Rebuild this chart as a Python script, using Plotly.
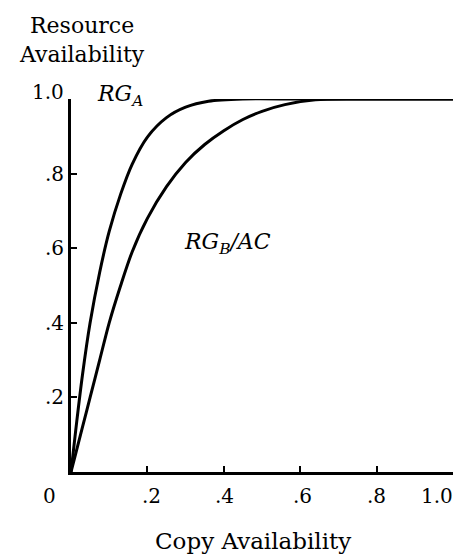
import plotly.graph_objects as go

# ---- data ----
rga_x = [0.0, 0.005, 0.015, 0.03, 0.05, 0.075, 0.10, 0.13, 0.16, 0.20,
         0.25, 0.30, 0.36, 0.45, 0.60, 1.00]
rga_y = [0.0, 0.045, 0.135, 0.26, 0.40, 0.535, 0.645, 0.745, 0.825, 0.898,
         0.950, 0.978, 0.994, 1.0, 1.0, 1.0]

rgb_x = [0.0, 0.01, 0.03, 0.05, 0.075, 0.10, 0.13, 0.16, 0.20, 0.25,
         0.30, 0.35, 0.40, 0.45, 0.50, 0.56, 0.64, 0.75, 1.00]
rgb_y = [0.0, 0.04, 0.12, 0.20, 0.30, 0.40, 0.50, 0.59, 0.68, 0.765,
         0.83, 0.878, 0.915, 0.945, 0.967, 0.985, 0.998, 1.0, 1.0]

x_tick_vals = [0.2, 0.4, 0.6, 0.8, 1.0]
x_tick_text = [".2", ".4", ".6", ".8", "1.0"]
y_tick_vals = [0.2, 0.4, 0.6, 0.8, 1.0]
y_tick_text = [".2", ".4", ".6", ".8", "1.0"]
origin_label = "0"

FONT = "DejaVu Serif"

fig = go.Figure()
line = dict(color="black", width=3, shape="spline", smoothing=0.8)
fig.add_trace(go.Scatter(x=rga_x, y=rga_y, mode="lines", line=line,
                         hoverinfo="skip", showlegend=False))
fig.add_trace(go.Scatter(x=rgb_x, y=rgb_y, mode="lines", line=line,
                         hoverinfo="skip", showlegend=False))

annotations = []
# x tick labels
x_shift = [4, 1, 2, 0, 2]
for v, t, s in zip(x_tick_vals, x_tick_text, x_shift):
    annotations.append(dict(x=v, y=-0.065, xref="x", yref="paper", text=t,
                            showarrow=False, xanchor="right" if v == 1.0 else "center",
                            yanchor="middle", xshift=s,
                            font=dict(family=FONT, size=20, color="black")))
annotations.append(dict(x=0, y=-0.065, xref="x", yref="paper", text=origin_label,
                        showarrow=False, xanchor="center", yanchor="middle", xshift=-22,
                        font=dict(family=FONT, size=20, color="black")))
# y tick labels
for v, t in zip(y_tick_vals, y_tick_text):
    annotations.append(dict(x=-0.014, y=v, xref="paper", yref="y", text=t,
                            showarrow=False, xanchor="right", yanchor="middle",
                            yshift=7 if v == 1.0 else 0,
                            font=dict(family=FONT, size=20, color="black")))
# axis titles
annotations.append(dict(x=(82 - 71) / 382, y=(472 - 40) / 373, xref="paper", yref="paper",
                        text="Resource<br>Availability", showarrow=False,
                        xanchor="center", yanchor="middle", align="center",
                        font=dict(family=FONT, size=22, color="black")))
annotations.append(dict(x=(253 - 71) / 382, y=(472 - 541) / 373, xref="paper", yref="paper",
                        text="Copy Availability", showarrow=False,
                        xanchor="center", yanchor="middle",
                        font=dict(family=FONT, size=23, color="black")))
# curve labels
annotations.append(dict(x=(95 - 71) / 382, y=(472 - 95) / 373, xref="paper", yref="paper",
                        text="<i>RG<sub>A</sub></i>", showarrow=False,
                        xanchor="left", yanchor="middle",
                        font=dict(family=FONT, size=22, color="black")))
annotations.append(dict(x=(182 - 71) / 382, y=(472 - 243) / 373, xref="paper", yref="paper",
                        text="<i>RG<sub>B</sub>/AC</i>", showarrow=False,
                        xanchor="left", yanchor="middle",
                        font=dict(family=FONT, size=22, color="black")))

fig.update_layout(
    width=461, height=557,
    margin=dict(l=71, r=8, t=99, b=85),
    paper_bgcolor="white", plot_bgcolor="white",
    annotations=annotations,
    xaxis=dict(range=[0, 1], showgrid=False, zeroline=False, showline=True,
               linecolor="black", linewidth=3, ticks="inside", ticklen=6,
               tickwidth=2, tickcolor="black", tickvals=x_tick_vals,
               showticklabels=False),
    yaxis=dict(range=[0, 1], showgrid=False, zeroline=False, showline=True,
               linecolor="black", linewidth=3, ticks="inside", ticklen=6,
               tickwidth=2, tickcolor="black", tickvals=y_tick_vals,
               showticklabels=False),
)

fig.write_html("out.html")
